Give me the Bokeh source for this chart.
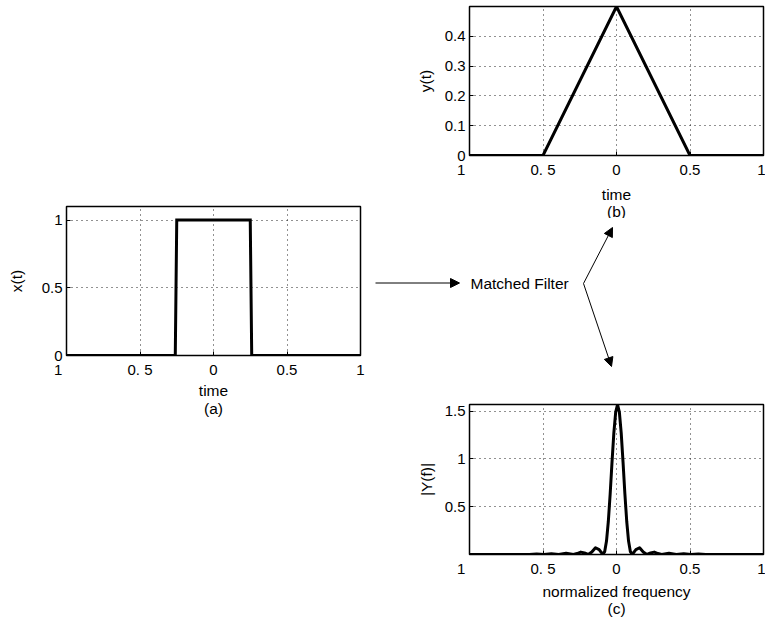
from bokeh.plotting import figure
from bokeh.layouts import row, column
from bokeh.models import Range1d, FixedTicker, Arrow, NormalHead, Label, Spacer
from bokeh.embed import file_html
from bokeh.resources import INLINE

FONT = "Liberation Sans"
FS = "15px"
FSL = "15.5px"

# ---- data ----
t_a = [-1.0, -0.26, -0.25, 0.25, 0.26, 1.0]
x_a = [0.0, 0.0, 1.0, 1.0, 0.0, 0.0]

t_b = [-1.0, -0.5, 0.0, 0.5, 1.0]
y_b = [0.0, 0.0, 0.5, 0.0, 0.0]

f_c = [-1.0, -0.593, -0.543, -0.493, -0.443, -0.393, -0.343, -0.293, -0.268, -0.243, -0.218,
       -0.193, -0.168, -0.143, -0.118, -0.093, -0.0805, -0.068, -0.0555, -0.043, -0.0305,
       -0.018, -0.0055, 0.007, 0.0195, 0.032, 0.0445, 0.057, 0.0695, 0.082, 0.0945, 0.107,
       0.132, 0.157, 0.182, 0.207, 0.232, 0.257, 0.282, 0.307, 0.357, 0.407, 0.457, 0.507,
       0.557, 0.607, 1.0]
Y_c = [0.0, 0.0, 0.005, 0.0, 0.008, 0.0, 0.013, 0.0, 0.010, 0.025, 0.016,
       0.0, 0.026, 0.071, 0.051, 0.0, 0.030, 0.141, 0.348, 0.636, 0.966,
       1.273, 1.491, 1.570, 1.491, 1.273, 0.966, 0.636, 0.348, 0.141, 0.030, 0.0,
       0.051, 0.071, 0.026, 0.0, 0.016, 0.025, 0.010, 0.0, 0.013, 0.0, 0.008, 0.0,
       0.005, 0.0, 0.0]

x_ticks = [-1.0, -0.5, 0.0, 0.5, 1.0]
x_tick_labels = ["1\u00a0\u00a0\u00a0\u00a0", "0. 5", "0", "0.5", "1"]
ya_ticks = [0.0, 0.5, 1.0]
ya_tick_labels = ["0", "0.5", "1"]
yb_ticks = [0.0, 0.1, 0.2, 0.3, 0.4]
yb_tick_labels = ["0", "0.1", "0.2", "0.3", "0.4"]
yc_ticks = [0.5, 1.0, 1.5]
yc_tick_labels = ["0.5", "1", "1.5"]


def make_plot(w, h, bl, br, bt, bb, ylim, yticks, ylabels, ylabel, ylab_standoff):
    p = figure(width=w, height=h, output_backend="svg", toolbar_location=None,
               x_range=Range1d(-1, 1), y_range=Range1d(*ylim),
               min_border_left=bl, min_border_right=br,
               min_border_top=bt, min_border_bottom=bb)
    p.frame_align = False
    p.outline_line_color = "black"
    p.outline_line_width = 1.5
    p.background_fill_color = "white"
    p.border_fill_color = "white"
    p.xaxis.ticker = FixedTicker(ticks=x_ticks)
    p.yaxis.ticker = FixedTicker(ticks=yticks)
    p.xaxis.major_label_overrides = dict(zip(x_ticks, x_tick_labels))
    p.yaxis.major_label_overrides = dict(zip(yticks, ylabels))
    p.yaxis.axis_label = ylabel
    p.xaxis.major_label_standoff = 5
    p.yaxis.major_label_standoff = 4
    p.yaxis.axis_label_standoff = ylab_standoff
    for ax in p.axis:
        ax.major_label_text_font = FONT
        ax.major_label_text_font_size = FS
        ax.major_label_text_color = "black"
        ax.axis_label_text_font = FONT
        ax.axis_label_text_font_size = FSL
        ax.axis_label_text_font_style = "normal"
        ax.axis_label_text_color = "black"
        ax.major_tick_in = 4
        ax.major_tick_out = 0
        ax.minor_tick_in = 0
        ax.minor_tick_out = 0
        ax.axis_line_color = None
        ax.major_tick_line_color = "black"
    for g in p.grid:
        g.grid_line_color = "#222222"
        g.grid_line_dash = "1 4"
        g.grid_line_width = 1
    return p


def caption_strip(w, h, bl, br, top, texts):
    """A strip under a plot holding its x label and its (letter) caption.
    Its y range is in page pixels (top -> bottom) so the texts sit where wanted."""
    c = figure(width=w, height=h, output_backend="svg", toolbar_location=None,
               x_range=Range1d(-1, 1), y_range=Range1d(top + h, top),
               x_axis_location=None, y_axis_location=None,
               min_border_left=bl, min_border_right=br, min_border_top=0, min_border_bottom=0)
    c.frame_align = False
    c.outline_line_color = None
    c.grid.visible = False
    for txt, ypix in texts:
        c.add_layout(Label(x=0, y=ypix, text=txt, text_font=FONT, text_font_size=FSL,
                           text_align="center", text_baseline="middle", text_color="black"))
    return c


# (a) input pulse: canvas y 201..380, frame 206..356
pa = make_plot(365, 179, 66, 5, 5, 24, (0, 1.1), ya_ticks, ya_tick_labels, "x(t)", 14)
pa.line(t_a, x_a, line_width=3, color="black", line_join="miter")
cap_a = caption_strip(365, 38, 66, 5, 380, [("time", 390), ("(a)", 408)])

# (b) matched filter output: canvas y 0..180, frame 6..156
pb = make_plot(400, 180, 104, 2, 6, 24, (0, 0.5), yb_ticks, yb_tick_labels, "y(t)", 8)
pb.line(t_b, y_b, line_width=3, color="black", line_join="miter")
cap_b = caption_strip(400, 38, 104, 2, 180, [("time", 193.5), ("(b)", 210.5)])

# (c) spectrum: canvas y 395..579, frame 404..555
pc = make_plot(400, 184, 104, 2, 9, 24, (0, 1.57), yc_ticks, yc_tick_labels, "|Y(f)|", 7)
pc.line(f_c, Y_c, line_width=3, color="black", line_join="round")
cap_c = caption_strip(400, 39, 104, 2, 579, [("normalized frequency", 591), ("(c)", 608)])

# middle: arrows + block label (page-pixel coordinates), canvas y 218..395
pm = figure(width=400, height=177, output_backend="svg", toolbar_location=None,
            x_range=Range1d(365, 765), y_range=Range1d(395, 218),
            x_axis_location=None, y_axis_location=None, min_border=0)
pm.frame_align = False
pm.outline_line_color = None
pm.grid.visible = False

def head():
    return NormalHead(size=9, fill_color="black", line_color="black", line_width=1)

pm.add_layout(Arrow(end=head(), x_start=375, y_start=282.5, x_end=459, y_end=282.5,
                    line_color="black", line_width=1))
pm.add_layout(Arrow(end=head(), x_start=583, y_start=283, x_end=612, y_end=227,
                    line_color="black", line_width=1))
pm.add_layout(Arrow(end=head(), x_start=583, y_start=283, x_end=611, y_end=366,
                    line_color="black", line_width=1))
pm.add_layout(Label(x=470, y=283, text="Matched Filter", text_font=FONT,
                    text_font_size=FSL, text_baseline="middle", text_align="left",
                    text_color="black"))

layout = row(column(Spacer(width=365, height=201), pa, cap_a),
             column(pb, cap_b, pm, pc, cap_c))

open("out.html", "w").write(file_html(layout, INLINE))
